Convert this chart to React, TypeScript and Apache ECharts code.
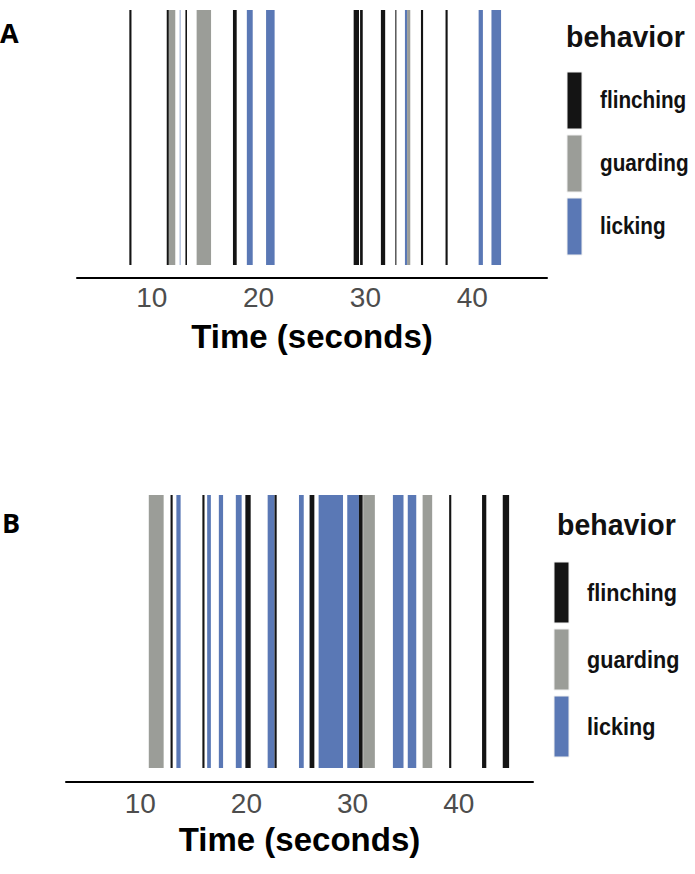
import React, { useEffect, useRef } from "react";
import * as echarts from "echarts";

const behaviors = ["flinching", "guarding", "licking"];
const behaviorColors = ["#141414", "#9b9d98", "#5a78b5"];
const tickValues = [10, 20, 30, 40];
const axisTitle = "Time (seconds)";
const legendTitle = "behavior";

// [start (s), end (s), behavior index]
const panelAEvents: number[][] = [
  [7.9, 8.1, 0],
  [11.4, 11.6, 0],
  [11.6, 12.2, 1],
  [12.62, 12.68, 2],
  [13.15, 13.3, 0],
  [14.2, 15.55, 1],
  [17.6, 17.95, 0],
  [18.9, 19.45, 2],
  [20.7, 21.5, 2],
  [28.9, 29.4, 0],
  [29.5, 29.75, 0],
  [31.45, 31.85, 0],
  [32.8, 32.9, 0],
  [33.7, 33.9, 2],
  [33.9, 34.2, 1],
  [35.2, 35.4, 0],
  [37.5, 37.7, 0],
  [40.6, 41.0, 2],
  [41.8, 42.7, 2],
];

const panelBEvents: number[][] = [
  [10.8, 12.2, 1],
  [12.85, 13.05, 0],
  [13.4, 13.8, 2],
  [15.85, 16.05, 0],
  [16.3, 16.65, 2],
  [17.4, 17.8, 2],
  [19.0, 19.55, 2],
  [19.9, 20.4, 0],
  [22.0, 22.65, 2],
  [22.65, 22.85, 0],
  [24.95, 25.4, 2],
  [25.95, 26.4, 0],
  [26.8, 29.1, 2],
  [29.5, 30.6, 2],
  [30.6, 30.95, 0],
  [31.0, 32.1, 1],
  [33.8, 34.8, 2],
  [35.2, 36.0, 2],
  [36.6, 37.5, 1],
  [39.1, 39.3, 0],
  [42.2, 42.6, 0],
  [44.15, 44.75, 0],
];

const FONT = "'Liberation Sans', Arial, sans-serif";
const NARROW = "'Liberation Sans Narrow', 'Arial Narrow', 'Liberation Sans', Arial, sans-serif";

function renderBar(params: any, api: any) {
  const s = api.coord([api.value(0), 1]);
  const e = api.coord([api.value(1), 0]);
  return {
    type: "rect",
    shape: { x: s[0], y: s[1], width: Math.max(e[0] - s[0], 0.6), height: e[1] - s[1] },
    style: { fill: behaviorColors[api.value(2)] },
  };
}

function xAxisFor(gridIndex: number, margin: number, nameGap: number) {
  return {
    type: "value",
    gridIndex,
    min: 3,
    max: 47,
    axisLine: { show: true, onZero: false, lineStyle: { color: "#000", width: 2 } },
    axisTick: { show: false },
    splitLine: { show: false },
    axisLabel: {
      customValues: tickValues,
      color: "#4d4d4d",
      fontSize: 28,
      fontFamily: NARROW,
      margin,
    },
    name: axisTitle,
    nameLocation: "middle",
    nameGap,
    nameTextStyle: { color: "#000", fontSize: 33, fontWeight: "bold", fontFamily: FONT },
  };
}

function legendGraphics(
  titleX: number,
  titleY: number,
  keyX: number,
  keyTops: number[],
  keyH: number,
  labelX: number,
  labelSize: number
) {
  const els: any[] = [
    {
      type: "text",
      x: titleX,
      y: titleY,
      scaleX: 0.95,
      style: {
        text: legendTitle,
        fontSize: 30,
        fontWeight: "bold",
        fontFamily: FONT,
        fill: "#111",
        verticalAlign: "middle",
      },
    },
  ];
  behaviors.forEach((b, i) => {
    els.push({
      type: "rect",
      shape: { x: keyX, y: keyTops[i], width: 15, height: keyH },
      style: { fill: behaviorColors[i], stroke: "#f0f0f0", lineWidth: 1 },
    });
    els.push({
      type: "text",
      x: labelX,
      y: keyTops[i] + keyH / 2,
      scaleX: 0.9,
      style: {
        text: b,
        fontSize: labelSize,
        fontWeight: "bold",
        fontFamily: FONT,
        fill: "#111",
        verticalAlign: "middle",
      },
    });
  });
  return els;
}

export default function App() {
  const ref = useRef<HTMLDivElement>(null);
  useEffect(() => {
    if (!ref.current) return;
    const chart = echarts.init(ref.current, null, { renderer: "svg" });
    chart.setOption({
      animation: false,
      backgroundColor: "#fff",
      grid: [
        { left: 77, right: 148, top: 10, height: 268 },
        { left: 66, right: 162, top: 495, height: 287 },
      ],
      xAxis: [xAxisFor(0, 5, 42), xAxisFor(1, 7, 41)],
      yAxis: [
        { type: "value", gridIndex: 0, min: -0.051, max: 1, show: false },
        { type: "value", gridIndex: 1, min: -0.051, max: 1, show: false },
      ],
      series: [
        {
          type: "custom",
          xAxisIndex: 0,
          yAxisIndex: 0,
          renderItem: renderBar,
          encode: { x: [0, 1] },
          data: panelAEvents,
        },
        {
          type: "custom",
          xAxisIndex: 1,
          yAxisIndex: 1,
          renderItem: renderBar,
          encode: { x: [0, 1] },
          data: panelBEvents,
        },
      ],
      graphic: [
        {
          type: "text",
          x: 0,
          y: 32,
          style: {
            text: "A",
            fontSize: 27,
            fontWeight: "bold",
            fontFamily: "'Open Sans', sans-serif",
            fill: "#000",
            verticalAlign: "middle",
          },
        },
        {
          type: "text",
          x: 2,
          y: 522,
          style: {
            text: "B",
            fontSize: 27,
            fontWeight: "bold",
            fontFamily: "'Open Sans', sans-serif",
            fill: "#000",
            verticalAlign: "middle",
          },
        },
        ...legendGraphics(566, 37, 567, [72, 135, 198], 57, 600, 23),
        ...legendGraphics(557, 525, 554, [562, 629, 696], 61, 587, 24),
      ],
    });
    return () => chart.dispose();
  }, []);
  return (
    <div
      ref={ref}
      style={{ position: "absolute", left: 0, top: 0, width: 695, height: 874 }}
    />
  );
}
